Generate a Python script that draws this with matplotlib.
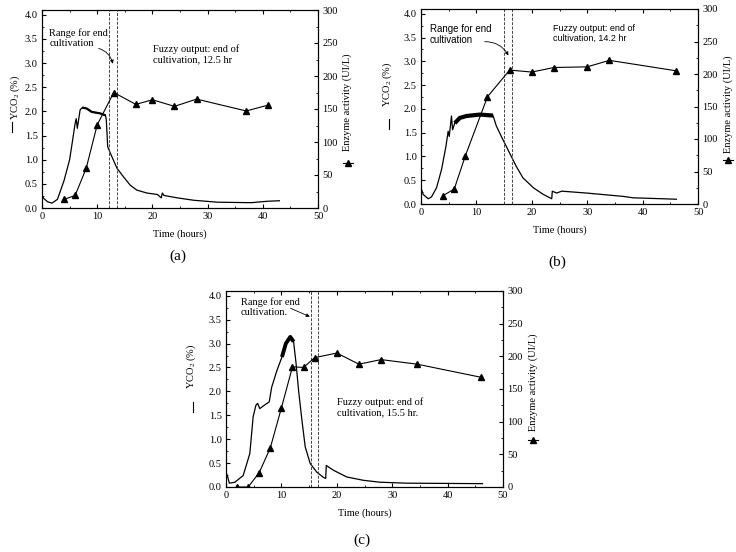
import numpy as np
import matplotlib.pyplot as plt
from matplotlib.lines import Line2D

plt.rcParams['font.family'] = ['Liberation Serif', 'DejaVu Serif']
plt.rcParams['mathtext.fontset'] = 'custom'
plt.rcParams['mathtext.rm'] = 'Liberation Serif'
plt.rcParams['font.size'] = 7.5

# ---- panel (a) ----
co2_t_a = [0, 0.3, 1.0, 1.8, 2.8, 4.0, 5.0, 5.5, 6.0, 6.2, 6.4, 6.9, 7.3, 8.1, 9.0, 10.5, 11.5, 11.65,
           11.9, 12.4, 13.6, 14.8, 16.0, 17.2, 19.0, 20.9, 21.6, 21.8, 22.1, 24.5, 27.5, 31.8, 37.9, 40.9, 43.0]
co2_v_a = [0.26, 0.2, 0.13, 0.1, 0.18, 0.57, 1.0, 1.37, 1.75, 1.85, 1.65, 2.03, 2.08, 2.06, 1.99, 1.96, 1.92, 1.82,
           1.27, 1.13, 0.82, 0.64, 0.47, 0.37, 0.31, 0.28, 0.21, 0.31, 0.26, 0.21, 0.16, 0.12, 0.11, 0.14, 0.15]
enz_t_a = [4, 6, 8, 10, 13, 17, 20, 24, 28, 37, 41]
enz_v_a = [13, 19, 60, 126, 175, 157, 164, 154, 165, 147, 156]
range_a = [12.1, 13.6]

# ---- panel (b) ----
co2_t_b = [0, 0.4, 1.3, 1.9, 2.8, 3.7, 4.5, 4.9, 5.1, 5.5, 5.7, 6.1, 7.0, 8.2, 10.6, 13.0, 13.6, 14.8,
           16.0, 17.2, 18.4, 20.3, 22.1, 23.6, 23.7, 24.5, 25.4, 29.9, 36.5, 38.3, 43.7, 46.1]
co2_v_b = [0.34, 0.2, 0.11, 0.15, 0.34, 0.72, 1.21, 1.53, 1.42, 1.85, 1.56, 1.7, 1.81, 1.85, 1.88, 1.86, 1.64, 1.35,
           1.07, 0.79, 0.55, 0.34, 0.2, 0.11, 0.27, 0.23, 0.27, 0.23, 0.16, 0.13, 0.11, 0.1]
enz_t_b = [4, 6, 8, 12, 16, 20, 24, 30, 34, 46]
enz_v_b = [13, 23, 74, 165, 206, 203, 210, 211, 221, 205]
range_b = [15.0, 16.35]

# ---- panel (c) ----
co2_t_c = [0, 0.24, 0.6, 1.6, 3.1, 4.3, 4.9, 5.4, 5.7, 6.1, 6.9, 7.8, 8.25, 9.2, 10.1, 10.8, 11.6, 12.2,
           12.65, 13.1, 13.7, 14.3, 15.2, 16.4, 17.6, 18.0, 18.1, 19.4, 21.8, 24.8, 27.8, 32.7, 46.3]
co2_v_c = [0.31, 0.24, 0.08, 0.1, 0.24, 0.7, 1.47, 1.71, 1.75, 1.64, 1.71, 1.78, 2.09, 2.44, 2.72, 3.0, 3.14, 3.04,
           2.58, 2.02, 1.4, 0.84, 0.49, 0.31, 0.2, 0.18, 0.45, 0.35, 0.21, 0.14, 0.1, 0.08, 0.07]
enz_t_c = [2, 4, 6, 8, 10, 12, 14, 16, 20, 24, 28, 34.5, 46]
enz_v_c = [0, 0, 22, 60, 121, 184, 183, 198, 205, 188, 195, 188, 168]
range_c = [15.35, 16.55]

W, H = 736, 552
fig = plt.figure(figsize=(W / 100, H / 100), dpi=100)


def px_rect(l, r, b, t):
    return [l / W, 1 - b / H, (r - l) / W, (b - t) / H]


def make_panel(rect, t, v, et, ev, rng, thick, capt, capt_xy, lab_l, lab_r, bar_x):
    ax = fig.add_axes(rect)
    ax.plot(t, v, color='black', lw=0.9)
    # noisy plateau drawn as a heavier stroke
    t_arr = np.array(t)
    m = (t_arr >= thick[0]) & (t_arr <= thick[1])
    ax.plot(t_arr[m], np.array(v)[m], color='black', lw=thick[2], solid_capstyle='butt')
    for x in rng:
        ax.axvline(x, color='#444444', lw=0.7, ls=(0, (3, 1.5)))
    ax.set_xlim(0, 50)
    ax.set_ylim(0, 4.1)
    ax.set_xticks(range(0, 51, 10))
    ax.set_yticks(np.arange(0, 4.01, 0.5))
    ax.set_yticklabels([f'{y:.1f}' for y in np.arange(0, 4.01, 0.5)])
    ax.set_xticks(range(5, 50, 10), minor=True)
    ax.set_yticks(np.arange(0.25, 4.1, 0.5), minor=True)
    ax.tick_params(which='both', direction='in', top=True, labelsize=7.5, pad=3)
    ax.tick_params(which='major', length=3)
    ax.tick_params(which='minor', length=1.5)
    ax.set_xlabel('Time (hours)', fontsize=7.5, labelpad=6)
    ax.set_ylabel('YCO$_2$ (%)', fontsize=7.5)
    ax.yaxis.set_label_coords(lab_l[0], lab_l[1])
    # legend line for the CO2 curve, beside the left label
    ax.add_line(Line2D([bar_x, bar_x], [0.385, 0.435], transform=ax.transAxes, color='black', lw=0.8,
                       clip_on=False))

    ax2 = ax.twinx()
    ax2.plot(et, ev, color='black', lw=0.8, marker='^', ms=4.5)
    ax2.set_ylim(0, 300)
    ax2.set_yticks(range(0, 301, 50))
    ax2.set_yticks(range(25, 300, 50), minor=True)
    ax2.tick_params(which='both', direction='in', labelsize=7.5, pad=3)
    ax2.tick_params(which='major', length=3)
    ax2.tick_params(which='minor', length=1.5)
    ax2.set_ylabel('Enzyme activity (UI/L)', fontsize=7.5)
    ax2.yaxis.set_label_coords(lab_r[0], lab_r[1])
    # legend symbol for the enzyme series, below the right label
    ax.add_line(Line2D([1.09, 1.125], [lab_r[2], lab_r[2]], transform=ax.transAxes, color='black', lw=0.8,
                       clip_on=False))
    ax.add_line(Line2D([1.1075], [lab_r[2]], transform=ax.transAxes, color='black', marker='^', ms=5, lw=0,
                       clip_on=False))
    fig.text(capt_xy[0] / W, 1 - capt_xy[1] / H, capt, ha='center', va='center', fontsize=11)
    return ax


ax_a = make_panel(px_rect(42, 318, 208, 10), co2_t_a, co2_v_a, enz_t_a, enz_v_a, range_a,
                  (7.0, 11.6, 1.6), '(a)', (178, 256), (-0.072, 0.558), (1.09, 0.535, 0.227), -0.109)
ax_a.text(1.3, 3.72, 'Range for end\ncultivation', ha='left', va='top', fontsize=7.5, linespacing=1.1)
ax_a.annotate('', xy=(12.9, 2.93), xytext=(9.8, 3.32),
              arrowprops=dict(arrowstyle='-|>', lw=0.6, color='black', mutation_scale=5,
                              connectionstyle='arc3,rad=-0.35'))
ax_a.text(20.1, 3.38, 'Fuzzy output: end of\ncultivation, 12.5 hr', ha='left', va='top', fontsize=7.5,
          linespacing=1.1)

ax_b = make_panel(px_rect(421, 698, 204, 9), co2_t_b, co2_v_b, enz_t_b, enz_v_b, range_b,
                  (6.0, 13.1, 3.0), '(b)', (557, 262), (-0.097, 0.615), (1.09, 0.51, 0.226), -0.116)
ax_b.text(1.6, 3.78, 'Range for end\ncultivation', ha='left', va='top', fontsize=7,
          family=['Liberation Sans', 'DejaVu Sans'], linespacing=1.15)
ax_b.annotate('', xy=(16.0, 3.07), xytext=(11.0, 3.41),
              arrowprops=dict(arrowstyle='-|>', lw=0.6, color='black', mutation_scale=5,
                              connectionstyle='arc3,rad=-0.35'))
ax_b.text(23.8, 3.79, 'Fuzzy output: end of\ncultivation, 14.2 hr', ha='left', va='top', fontsize=6.5,
          family=['Liberation Sans', 'DejaVu Sans'], linespacing=1.15)

ax_c = make_panel(px_rect(226, 503, 487, 291), co2_t_c, co2_v_c, enz_t_c, enz_v_c, range_c,
                  (10.1, 12.2, 2.8), '(c)', (362, 540), (-0.10, 0.617), (1.09, 0.535, 0.24), -0.119)
ax_c.text(2.7, 3.97, 'Range for end\ncultivation.', ha='left', va='top', fontsize=7.5, linespacing=1.1)
ax_c.annotate('', xy=(15.6, 3.54), xytext=(11.2, 3.76),
              arrowprops=dict(arrowstyle='-|>', lw=0.6, color='black', mutation_scale=5))
ax_c.text(20.0, 1.87, 'Fuzzy output: end of\ncultivation, 15.5 hr.', ha='left', va='top', fontsize=7.5,
          linespacing=1.1)

fig.savefig('out.png', dpi=100)
